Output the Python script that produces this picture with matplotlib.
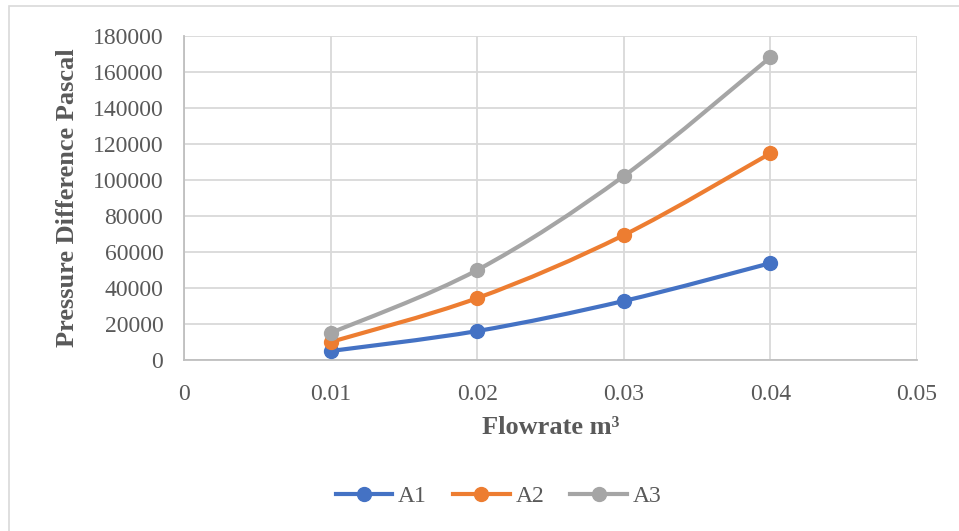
import matplotlib.pyplot as plt
from matplotlib.path import Path
from matplotlib.patches import PathPatch, Rectangle
from matplotlib.lines import Line2D

flow = [0.01, 0.02, 0.03, 0.04]
a1 = [5000, 16100, 32800, 53800]
a2 = [10000, 34400, 69400, 114800]
a3 = [15000, 50000, 102200, 168200]
names = ['A1', 'A2', 'A3']
colors = ['#4472C4', '#ED7D31', '#A5A5A5']
xticks = [0, 0.01, 0.02, 0.03, 0.04, 0.05]
yticks = list(range(0, 180001, 20000))

plt.rcParams['font.family'] = ['Liberation Serif', 'DejaVu Serif']
gray = '#595959'


def smooth_path(xs, ys):
    # excel style smoothed line: cubic bezier through each point
    pts = list(zip(xs, ys))
    n = len(pts)
    verts = [pts[0]]
    codes = [Path.MOVETO]
    for i in range(n - 1):
        p0 = pts[i - 1] if i > 0 else pts[i]
        p1 = pts[i]
        p2 = pts[i + 1]
        p3 = pts[i + 2] if i + 2 < n else pts[i + 1]
        c1 = (p1[0] + (p2[0] - p0[0]) / 6, p1[1] + (p2[1] - p0[1]) / 6)
        c2 = (p2[0] - (p3[0] - p1[0]) / 6, p2[1] - (p3[1] - p1[1]) / 6)
        verts += [c1, c2, p2]
        codes += [Path.CURVE4] * 3
    return Path(verts, codes)


fig = plt.figure(figsize=(9.59, 5.31), dpi=100)
fig.patches.append(Rectangle((0.009, -0.05), 1.1, 1.038, transform=fig.transFigure,
                             fill=False, edgecolor='#d9d9d9', linewidth=1.2))
ax = fig.add_axes([0.192, 0.322, 0.764, 0.61])

handles = []
for ys, name, c in zip([a1, a2, a3], names, colors):
    ax.add_patch(PathPatch(smooth_path(flow, ys), fill=False, edgecolor=c,
                           linewidth=3, capstyle='round', zorder=3))
    ax.plot(flow, ys, 'o', color=c, markersize=10, zorder=4)
    handles.append(Line2D([], [], color=c, linewidth=3, marker='o', markersize=10, label=name))

ax.set_xlim(0, 0.05)
ax.set_ylim(0, 180000)
ax.set_xticks(xticks)
ax.set_xticklabels(['0', '0.01', '0.02', '0.03', '0.04', '0.05'])
ax.set_yticks(yticks)
ax.set_yticklabels([str(v) for v in yticks])
ax.grid(True, color='#d9d9d9', linewidth=1.3)
ax.set_axisbelow(True)
ax.tick_params(length=0, labelsize=17, labelcolor=gray)
ax.tick_params(axis='y', pad=15)
ax.tick_params(axis='x', pad=17)
for s in ['top', 'right']:
    ax.spines[s].set_visible(False)
for s in ['left', 'bottom']:
    ax.spines[s].set_color('#bfbfbf')
    ax.spines[s].set_linewidth(1.3)

ax.set_xlabel('Flowrate m³', fontsize=19, fontweight='bold', color=gray, labelpad=8)
ax.set_ylabel('Pressure Difference Pascal', fontsize=19, fontweight='bold', color=gray, labelpad=10)

fig.legend(handles=handles, loc='center', bbox_to_anchor=(0.52, 0.065), ncol=3, frameon=False,
           fontsize=17, labelcolor=gray, handlelength=2.4, handletextpad=0.25, columnspacing=1.1)

fig.savefig('out.png', dpi=100)
